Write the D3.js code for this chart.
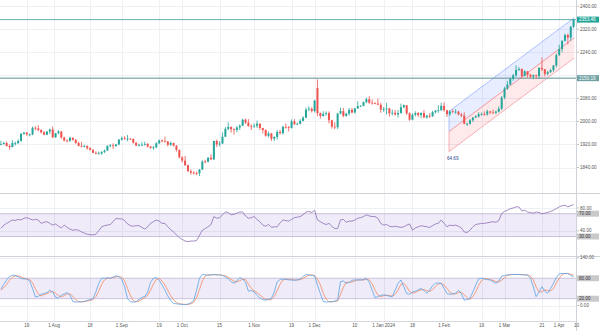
<!DOCTYPE html>
<html><head><meta charset="utf-8">
<script src="https://cdn.jsdelivr.net/npm/d3@7"></script>
<style>body{margin:0;background:#fff}svg{display:block;font-family:"Liberation Sans",Arial,sans-serif}</style>
</head><body><svg id="c" width="600" height="331"></svg>
<script>
// ---- data (daily XAU/USD, Jul 3 2023 .. Apr 8 2024) ----
const opens = [1919,1921,1925,1915,1911,1925,1925,1932,1957,1961,1955,1955,1978,1976,1970,1962,1954,1965,1972,1945,1959,
1965,1944,1934,1933,1943,1936,1925,1915,1913,1914,1907,1901,1891,1889,1889,1894,1899,1915,1917,1914,1920,1937,1942,
1940,1940,1939,1926,1916,1919,1919,1922,1913,1908,1910,1924,1934,1931,1930,1919,1925,1916,1901,1875,1864,
1848,1827,1822,1821,1820,1833,1861,1860,1874,1868,1932,1920,1923,1947,1974,1981,1973,1970,1979,1985,2006,1996,
1983,1982,1985,1992,1977,1970,1950,1958,1940,1946,1963,1959,1981,1980,1978,2000,1990,1992,2002,2013,2041,2044,
2036,2116,2029,2019,2026,2029,2004,1982,1980,2027,2036,2019,2027,2040,2031,2045,2053,2054,2067,2077,2065,
2063,2062,2058,2041,2043,2045,2028,2030,2024,2029,2049,2056,2028,2006,2023,2029,2022,2029,2014,2020,2018,2032,2037,
2039,2054,2039,2025,2035,2034,2034,2024,2020,1992,1992,2004,2013,2017,2025,2025,2024,2035,2031,2030,2034,
2044,2083,2114,2128,2148,2160,2179,2182,2158,2174,2162,2155,2160,2157,2186,2181,2165,2171,2178,2194,
2230,2251,2280,2300,2291,2329];
const highs = [1933,1930,1931,1920,1935,1930,1938,1960,1964,1963,1958,1982,1983,1987,1973,1966,1966,1975,1982,1960,1970,
1966,1947,1938,1947,1945,1939,1930,1929,1919,1917,1910,1904,1896,1895,1897,1902,1917,1922,1924,1922,1938,1948,1949,
1953,1943,1941,1928,1923,1929,1930,1925,1915,1915,1928,1937,1937,1947,1932,1930,1926,1917,1902,1879,1880,
1850,1833,1827,1826,1834,1865,1867,1876,1886,1933,1937,1932,1962,1980,1997,1982,1976,1983,1990,2009,2010,2008,
1990,1993,2003,1993,1978,1973,1965,1960,1948,1970,1971,1985,1993,1984,2007,2008,1996,2008,2018,2048,2052,2049,
2075,2146,2031,2035,2035,2035,2006,1997,2030,2048,2047,2030,2047,2047,2047,2070,2056,2069,2083,2088,2076,
2066,2079,2065,2050,2064,2047,2041,2040,2040,2062,2059,2057,2031,2028,2035,2033,2032,2040,2023,2029,2037,2040,2056,
2065,2066,2040,2039,2042,2043,2037,2029,2032,1996,2009,2016,2022,2032,2031,2035,2041,2036,2041,2038,2052,
2088,2120,2141,2152,2165,2195,2189,2184,2178,2175,2166,2164,2163,2188,2222,2182,2176,2183,2196,2236,
2266,2281,2305,2305,2331,2354];
const lows = [1917,1920,1912,1902,1910,1916,1921,1930,1954,1950,1948,1952,1969,1966,1958,1952,1952,1956,1942,1943,1955,
1940,1930,1927,1928,1933,1922,1913,1910,1910,1902,1899,1890,1885,1885,1884,1890,1897,1910,1904,1913,1917,1933,1936,
1931,1936,1923,1915,1913,1914,1916,1909,1905,1901,1907,1921,1927,1927,1913,1915,1913,1895,1872,1857,1845,
1826,1815,1816,1813,1810,1832,1855,1858,1867,1866,1911,1913,1922,1946,1969,1961,1954,1962,1970,1983,1991,1983,
1970,1978,1977,1970,1958,1947,1944,1932,1931,1937,1954,1954,1975,1965,1975,1988,1987,1990,2000,2011,2035,2031,
2031,2018,2010,2017,2020,1993,1975,1973,1974,2025,2014,2016,2020,2028,2027,2043,2050,2052,2063,2061,2058,
2060,2057,2030,2033,2024,2017,2021,2020,2013,2027,2046,2022,2002,2004,2017,2015,2011,2011,2009,2012,2016,2027,2030,
2036,2034,2015,2019,2029,2026,2021,2015,1990,1984,1989,1998,2012,2013,2020,2020,2020,2025,2026,2025,2031,
2039,2077,2109,2126,2141,2154,2175,2150,2156,2152,2150,2146,2147,2147,2175,2157,2160,2168,2172,2188,
2228,2240,2277,2267,2280,2324];
const closes = [1921,1925,1915,1911,1925,1925,1932,1957,1961,1955,1955,1978,1976,1970,1962,1954,1965,1972,1945,1959,1965,
1944,1934,1933,1943,1936,1925,1915,1913,1914,1907,1901,1891,1889,1889,1894,1899,1915,1917,1914,1920,1937,1942,1940,
1940,1939,1926,1916,1919,1919,1922,1913,1908,1910,1924,1934,1931,1930,1919,1925,1916,1901,1875,1864,1848,
1827,1822,1821,1820,1833,1861,1860,1874,1868,1932,1920,1923,1947,1974,1981,1973,1970,1979,1985,2006,1996,1983,
1982,1985,1992,1977,1970,1950,1958,1940,1946,1963,1959,1981,1980,1978,2000,1990,1992,2002,2013,2041,2044,2036,
2072,2029,2019,2026,2029,2004,1982,1980,2027,2036,2019,2027,2040,2031,2045,2053,2054,2067,2077,2065,2063,
2062,2058,2041,2043,2045,2028,2030,2024,2029,2049,2056,2028,2006,2023,2029,2022,2029,2014,2020,2018,2032,2037,2039,
2054,2039,2025,2035,2034,2034,2024,2020,1992,1992,2004,2013,2017,2025,2025,2024,2035,2031,2030,2034,2044,
2083,2114,2128,2148,2160,2179,2182,2158,2174,2162,2155,2160,2157,2186,2181,2165,2171,2178,2194,2230,
2251,2280,2300,2291,2329,2353.46];
const rsi = [44,50,53,56,59,58,60,59,62,63, 61,59,60,59,53,55,56,53,50,52, 48,45,50,46,43,41,42,41,38,36,
34,33,33,34,40,47,49,50,51,56, 62,61,61,58,52,49,48,49,49,46, 43,47,53,56,59,57,53,53,47,42,
38,33,28,25,22,21,22,22,23,32, 41,44,47,51,65,62,63,68,73,72, 68,69,71,73,73,66,62,63,65,60,
56,50,48,51,46,47,47,54,59,58, 57,60,63,64,65,68,73,74,72,76, 59,56,53,51,53,48,44,44,59,60,
55,57,57,59,62,63,65,68,66,65, 65,62,53,50,51,48,47,48,47,46, 47,50,52,41,45,47,49,48,47,46,
49,52,53,59,53,47,50,49,50,48, 45,38,37,41,47,51,52,53,53,54, 55,56,55,58,70,74,76,79,80,82,
82,75,76,73,72,71,73,72,70,71, 72,74,76,79,82,84,85,82,84,86];
const stochK = [48,62,75,85,89,88,84,79,78,78, 72,50,25,27,33,35,38,45,40,24, 22,30,34,38,30,12,10,11,11,12,
15,17,20,40,65,80,80,81,80,84, 87,85,76,55,20,11,10,11,18,24, 26,40,68,80,82,74,60,45,28,15,
6,5,4,3,3,4,8,15,45,80, 91,90,89,90,91,90,90,88,84,78, 70,65,72,82,78,68,42,44,40,30,
22,17,16,18,21,40,70,76,78,77, 75,75,74,75,78,85,91,90,88,87, 60,35,12,10,11,11,13,16,70,72,
65,68,74,75,75,75,76,80,68,45, 23,26,30,31,30,27,26,45,65,75, 55,35,33,40,42,46,50,44,36,45,
58,65,66,65,50,35,33,34,36,45, 35,16,17,21,40,60,78,80,78,76, 75,70,65,72,86,88,90,91,91,91,
91,90,90,89,80,55,26,40,55,42, 36,50,65,82,93,94,94,94,88,85];
const stochD = [45,52,62,74,83,87,87,84,80,78, 76,67,49,34,28,32,35,39,41,36, 29,25,29,34,34,27,17,11,11,11,
13,15,17,26,42,62,75,80,80,82, 84,85,83,72,50,29,14,11,13,18, 23,30,45,63,77,79,72,60,44,29,
16,9,5,4,3,3,5,9,23,47, 72,87,90,90,90,90,90,89,87,83, 77,71,69,73,77,76,63,51,42,38,
31,23,18,17,18,26,44,62,75,77, 77,76,75,75,76,79,85,89,90,88, 78,61,36,19,11,11,12,13,33,53,
69,68,69,72,75,75,75,77,75,64, 45,31,26,29,30,29,28,33,45,62, 65,55,41,36,38,43,46,47,43,42,
46,56,63,65,60,50,39,34,34,38, 39,32,23,18,26,40,59,73,79,78, 76,74,70,69,74,82,88,90,91,91,
91,91,90,90,86,75,54,40,40,46, 44,43,50,66,80,90,94,94,92,89];
const tickIndex = [9,18.5,31,42,55,63,76,88,101,109,123,133,143,154,167,175,188,194,200];
const tickLabels = ["19","1 Aug","18","1 Sep","19","1 Oct","15","1 Nov","19","1 Dec","10","1 Jan 2024","18","1 Feb","19","1 Mar","21","1 Apr","10"];
const priceTicks = [1840,1920,2000,2080,2160,2240,2320,2400];
const rsiTicks = [40,80];
const rsiBand = [30,70];
const stochTicks = [0,140];
const stochBand = [20,80];
const lastPrice = 2353.46;
const levelPrice = 2150.19;
const channelIdx = [155.7, 199.2];
const channelUpper = [2035, 2360];
const channelMid = [1965, 2290];
const channelLower = [1895, 2220];
const channelText = "64.69";

// ---- drawing ----
const W = 600, H = 331, R = 576;
const svg = d3.select("#c");
svg.append("rect").attr("width", W).attr("height", H).attr("fill", "#fff");
const x = d3.scaleLinear().domain([0, 199]).range([0.9, 573.6]);
const yP = d3.scaleLinear().domain([1840, 2400]).range([167.5, 6.2]);
const yR = d3.scaleLinear().domain([30, 80]).range([236.5, 208]);
const yS = d3.scaleLinear().domain([0, 140]).range([305.5, 257.8]);
const panes = {main: [0, 193], rsi: [194, 256], stoch: [257, 321]};
const defs = svg.append("defs");
Object.entries(panes).forEach(([k, [a, b]]) => {
  defs.append("clipPath").attr("id", "clip-" + k).append("rect")
    .attr("x", 0).attr("y", a).attr("width", R).attr("height", b - a);
});
const gridC = "#eef0f4";
// vertical grid
const vg = svg.append("g");
tickIndex.forEach(t => {
  const xx = Math.round(x(t)) + 0.5;
  if (xx < R) vg.append("line").attr("x1", xx).attr("x2", xx).attr("y1", 0).attr("y2", 321).attr("stroke", gridC);
});
// horizontal grids
const hg = svg.append("g");
priceTicks.forEach(p => hg.append("line").attr("x1", 0).attr("x2", R).attr("y1", Math.round(yP(p)) + 0.5).attr("y2", Math.round(yP(p)) + 0.5).attr("stroke", gridC));
rsiTicks.forEach(p => hg.append("line").attr("x1", 0).attr("x2", R).attr("y1", Math.round(yR(p)) + 0.5).attr("y2", Math.round(yR(p)) + 0.5).attr("stroke", gridC));
stochTicks.forEach(p => hg.append("line").attr("x1", 0).attr("x2", R).attr("y1", Math.round(yS(p)) + 0.5).attr("y2", Math.round(yS(p)) + 0.5).attr("stroke", gridC));

// main pane
const gm = svg.append("g").attr("clip-path", "url(#clip-main)");
// channel
const cx0 = x(channelIdx[0]), cx1 = x(channelIdx[1]);
const pts = (a, b) => [[cx0, yP(a[0])], [cx1, yP(a[1])], [cx1, yP(b[1])], [cx0, yP(b[0])]];
gm.append("polygon").attr("points", pts(channelUpper, channelMid).join(" ")).attr("fill", "rgba(41,98,255,0.11)");
gm.append("polygon").attr("points", pts(channelMid, channelLower).join(" ")).attr("fill", "rgba(242,54,69,0.11)");
const cl = (a, col) => gm.append("line").attr("x1", cx0).attr("y1", yP(a[0])).attr("x2", cx1).attr("y2", yP(a[1])).attr("stroke", col).attr("stroke-width", 0.8);
cl(channelUpper, "rgba(41,98,255,0.45)");
cl(channelMid, "rgba(242,54,69,0.6)");
cl(channelLower, "rgba(242,54,69,0.45)");
gm.append("line").attr("x1", cx0).attr("x2", cx0).attr("y1", yP(channelUpper[0])).attr("y2", yP(channelMid[0])).attr("stroke", "rgba(41,98,255,0.45)").attr("stroke-width", 0.8);
gm.append("line").attr("x1", cx0).attr("x2", cx0).attr("y1", yP(channelMid[0])).attr("y2", yP(channelLower[0])).attr("stroke", "rgba(242,54,69,0.45)").attr("stroke-width", 0.8);
gm.append("text").attr("x", cx0 - 2).attr("y", yP(channelLower[0]) + 8).attr("font-size", 4.6).attr("fill", "#2a3f8f").text(channelText);

// horizontal level lines
gm.append("line").attr("x1", 0).attr("x2", R).attr("y1", yP(lastPrice)).attr("y2", yP(lastPrice)).attr("stroke", "#56a8a6").attr("stroke-width", 0.9);
gm.append("line").attr("x1", 0).attr("x2", R).attr("y1", yP(levelPrice)).attr("y2", yP(levelPrice)).attr("stroke", "#5f8f93").attr("stroke-width", 1);

// candles
const up = "#26a69a", dn = "#ef5350";
const idx = d3.range(opens.length);
gm.selectAll("line.w").data(idx).join("line").attr("class", "w")
  .attr("x1", i => x(i)).attr("x2", i => x(i))
  .attr("y1", i => yP(highs[i])).attr("y2", i => yP(lows[i]))
  .attr("stroke", i => closes[i] >= opens[i] ? up : dn).attr("stroke-width", 0.8);
gm.selectAll("rect.b").data(idx).join("rect").attr("class", "b")
  .attr("x", i => x(i) - 1).attr("width", 2)
  .attr("y", i => yP(Math.max(opens[i], closes[i])))
  .attr("height", i => Math.max(0.8, Math.abs(yP(opens[i]) - yP(closes[i]))))
  .attr("fill", i => closes[i] >= opens[i] ? up : dn);

// RSI pane
const gr = svg.append("g").attr("clip-path", "url(#clip-rsi)");
gr.append("rect").attr("x", 0).attr("width", R).attr("y", yR(rsiBand[1])).attr("height", yR(rsiBand[0]) - yR(rsiBand[1])).attr("fill", "rgba(126,87,194,0.12)");
rsiBand.forEach(v => gr.append("line").attr("x1", 0).attr("x2", R).attr("y1", yR(v)).attr("y2", yR(v)).attr("stroke", "#b8aed0").attr("stroke-width", 0.7));
gr.append("path").datum(rsi).attr("fill", "none").attr("stroke", "#8d6fb5").attr("stroke-width", 0.8)
  .attr("d", d3.line().x((d, i) => x(i)).y(d => yR(d)));

// Stoch pane
const gs = svg.append("g").attr("clip-path", "url(#clip-stoch)");
gs.append("rect").attr("x", 0).attr("width", R).attr("y", yS(stochBand[1])).attr("height", yS(stochBand[0]) - yS(stochBand[1])).attr("fill", "rgba(126,87,194,0.12)");
stochBand.forEach(v => gs.append("line").attr("x1", 0).attr("x2", R).attr("y1", yS(v)).attr("y2", yS(v)).attr("stroke", "#b8aed0").attr("stroke-width", 0.7));
gs.append("path").datum(stochD).attr("fill", "none").attr("stroke", "#f4895f").attr("stroke-width", 0.8)
  .attr("d", d3.line().x((d, i) => x(i)).y(d => yS(d)));
gs.append("path").datum(stochK).attr("fill", "none").attr("stroke", "#5aa5e6").attr("stroke-width", 0.8)
  .attr("d", d3.line().x((d, i) => x(i)).y(d => yS(d)));

// separators & borders
[193.5, 256.5].forEach(y => svg.append("line").attr("x1", 0).attr("x2", W).attr("y1", y).attr("y2", y).attr("stroke", "#cfd2d8").attr("stroke-width", 1.2));
svg.append("line").attr("x1", 0).attr("x2", R).attr("y1", 321.5).attr("y2", 321.5).attr("stroke", "#d6d8de");
svg.append("line").attr("x1", R + 0.5).attr("x2", R + 0.5).attr("y1", 0).attr("y2", H).attr("stroke", "#cfd2d8");

// right axes (tick labels hidden where a level box covers them, as in the reference)
const fs = 4.6, tc = "#555";
const axisLbl = (y, t) => {
  svg.append("line").attr("x1", R + 1).attr("x2", R + 3).attr("y1", y).attr("y2", y).attr("stroke", "#999").attr("stroke-width", 0.6);
  svg.append("text").attr("x", 580).attr("y", y + 1.6).attr("font-size", fs).attr("fill", tc).text(t);
};
const boxYs = [yP(levelPrice), yP(lastPrice)];
priceTicks.forEach(p => {
  const y = yP(p);
  if (boxYs.every(b => Math.abs(b - y) > 6)) axisLbl(y, d3.format(".2f")(p));
});
rsiTicks.forEach(p => axisLbl(yR(p), d3.format(".2f")(p)));
stochTicks.forEach(p => axisLbl(yS(p), d3.format(".2f")(p)));
const box = (y, t, fill, col) => {
  svg.append("rect").attr("x", R + 1).attr("y", y - 3).attr("width", 22).attr("height", 6).attr("fill", fill);
  svg.append("text").attr("x", 579).attr("y", y + 1.6).attr("font-size", fs).attr("fill", col).text(t);
};
box(yP(levelPrice), d3.format(".2f")(levelPrice), "#6fa1a4", "#fff");
box(yP(lastPrice), d3.format(".2f")(lastPrice), "#26a69a", "#fff");
rsiBand.forEach(v => box(yR(v), d3.format(".2f")(v), "#c9c9cc", "#333"));
stochBand.forEach(v => box(yS(v), d3.format(".2f")(v), "#c9c9cc", "#333"));

// time axis
tickIndex.forEach((t, k) => {
  svg.append("text").attr("x", x(t)).attr("y", 327).attr("text-anchor", "middle")
    .attr("font-size", fs).attr("fill", tc).text(tickLabels[k]);
});
</script></body></html>
